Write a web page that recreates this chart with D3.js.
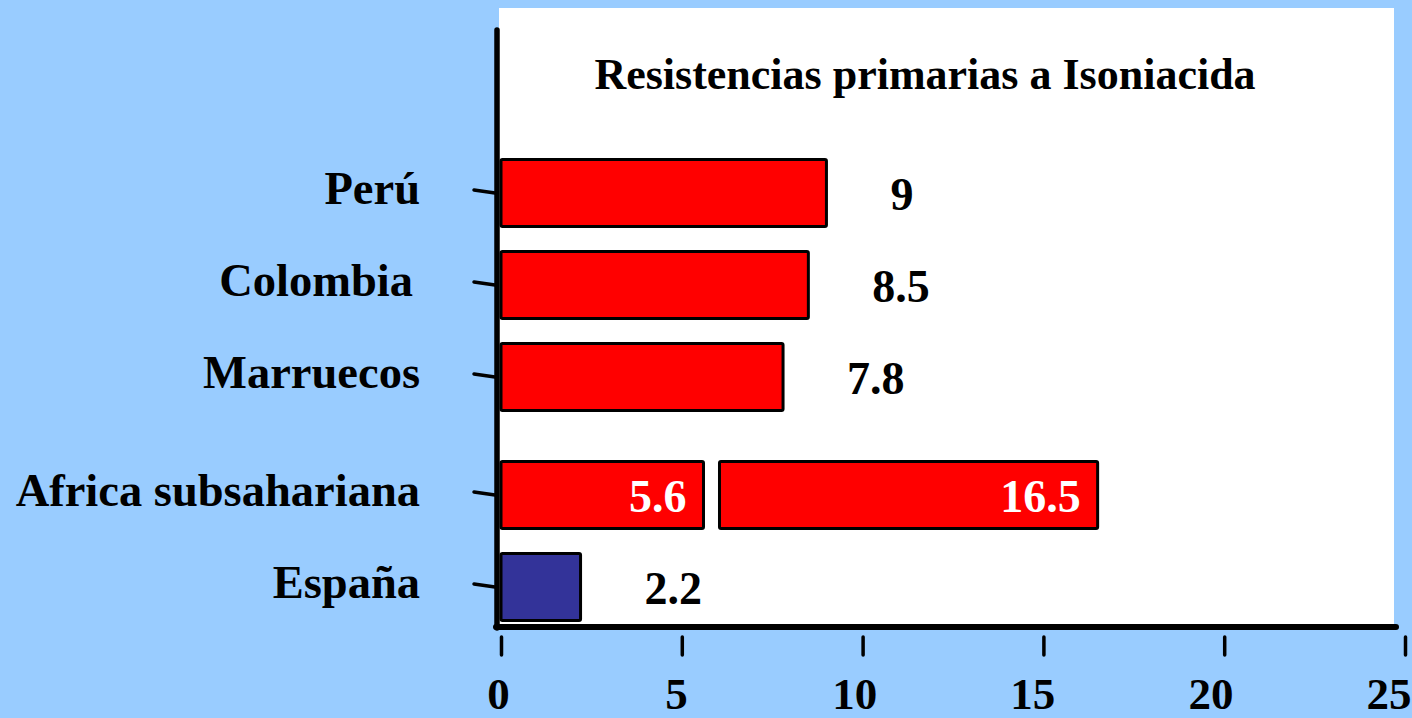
<!DOCTYPE html>
<html>
<head>
<meta charset="utf-8">
<script src="https://cdn.jsdelivr.net/npm/d3@7"></script>
<style>
  html, body { margin: 0; padding: 0; background: #99ccff; }
  svg { display: block; }
  text { font-family: "Liberation Serif", "Times New Roman", serif; font-weight: bold; }
</style>
</head>
<body>
<svg></svg>
<script>
"use strict"

// datos
const title = "Resistencias primarias a Isoniacida"
const categories = ["Perú", "Colombia", "Marruecos", "Africa subsahariana", "España"]
const values = [9, 8.5, 7.8, 5.6, 2.2]
const africaSecond = 16.5          // segundo estudio en Africa subsahariana
const xTicks = [0, 5, 10, 15, 20, 25]

document.addEventListener("DOMContentLoaded", () => {

    const W = 1412, H = 718
    const svg = d3.select('svg').attr('width', W).attr('height', H)

    const x = d3.scaleLinear().domain([0, 25]).range([501, 1405])
    // 5 filas; las dos ultimas van algo mas separadas
    const yp = d3.scalePoint().domain(categories).range([193, 561])
    const y = c => yp(c) + (categories.indexOf(c) >= 3 ? 26 : 0)
    const barH = 67

    // zona blanca del grafico
    svg.append('rect')
        .attr('x', 499).attr('y', 8)
        .attr('width', 895).attr('height', 619)
        .attr('fill', 'white')

    svg.append('text')
        .attr('x', 925).attr('y', 89)
        .attr('text-anchor', 'middle')
        .attr('font-size', 44)
        .text(title)

    const rows = categories.map((c, i) => ({ c, v: values[i] }))

    // barras
    svg.append('g').selectAll('rect.bar')
        .data(rows)
        .join('rect')
        .attr('class', 'bar')
        .attr('x', x(0))
        .attr('y', d => y(d.c) - barH / 2)
        .attr('width', d => x(d.v) - x(0))
        .attr('height', barH)
        .attr('rx', 1.5)
        .attr('fill', d => d.c === "España" ? '#333399' : '#ff0000')
        .attr('stroke', 'black')
        .attr('stroke-width', 3)

    // segunda barra de Africa
    const af = "Africa subsahariana"
    const afStart = x(values[categories.indexOf(af)]) + 16
    svg.append('rect')
        .attr('x', afStart)
        .attr('y', y(af) - barH / 2)
        .attr('width', x(africaSecond) - afStart)
        .attr('height', barH)
        .attr('rx', 1.5)
        .attr('fill', '#ff0000')
        .attr('stroke', 'black')
        .attr('stroke-width', 3)

    // etiquetas de valor
    svg.append('g').selectAll('text')
        .data(rows)
        .join('text')
        .attr('font-size', 46)
        .attr('y', d => y(d.c) + 17)
        .attr('x', d => d.c === af ? x(d.v) - 17 : x(d.v) + 64)
        .attr('text-anchor', d => d.c === af ? 'end' : 'start')
        .attr('fill', d => d.c === af ? 'white' : 'black')
        .text(d => d.v)

    svg.append('text')
        .attr('font-size', 46)
        .attr('x', x(africaSecond) - 17)
        .attr('y', y(af) + 17)
        .attr('text-anchor', 'end')
        .attr('fill', 'white')
        .text(africaSecond)

    // nombres de categoria
    svg.append('g').selectAll('text')
        .data(categories)
        .join('text')
        .attr('font-size', 46.5)
        .attr('x', c => c === "Colombia" ? 413 : 420)
        .attr('y', c => y(c) + 11)
        .attr('text-anchor', 'end')
        .text(c => c)

    // marcas del eje vertical
    svg.append('g').selectAll('line')
        .data(categories)
        .join('line')
        .attr('x1', 474).attr('x2', 495)
        .attr('y1', c => y(c) - 3).attr('y2', c => y(c))
        .attr('stroke', 'black')
        .attr('stroke-width', 3.5)
        .attr('stroke-linecap', 'round')

    // ejes
    svg.append('line')
        .attr('x1', 497).attr('x2', 497)
        .attr('y1', 30).attr('y2', 628)
        .attr('stroke', 'black').attr('stroke-width', 5.5)
        .attr('stroke-linecap', 'round')
    svg.append('line')
        .attr('x1', 496).attr('x2', 1396)
        .attr('y1', 627).attr('y2', 627)
        .attr('stroke', 'black').attr('stroke-width', 6)
        .attr('stroke-linecap', 'round')

    const axis = svg.append('g')
        .attr('transform', 'translate(0,637)')
        .call(d3.axisBottom(x).tickValues(xTicks).tickSizeInner(18).tickSizeOuter(0))
    axis.select('.domain').remove()
    axis.selectAll('.tick line')
        .attr('stroke', 'black')
        .attr('stroke-width', 3.5)
        .attr('stroke-linecap', 'round')
    axis.selectAll('.tick text')
        .attr('fill', 'black')
        .attr('font-size', 45)
        .attr('font-family', null)
        .attr('y', 72).attr('dy', 0)
        .attr('dx', v => -(3 + v * 0.54))
});
</script>
</body>
</html>
